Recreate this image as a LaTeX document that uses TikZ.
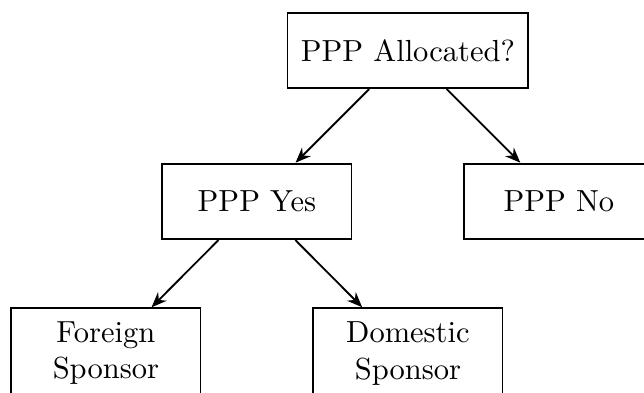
\documentclass[tikz,border=0pt]{standalone}
\usetikzlibrary{arrows.meta}

\begin{document}
\begin{tikzpicture}[
  box/.style={draw, semithick, align=center, minimum width=2.18cm, minimum height=0.87cm, inner sep=4.4pt},
  edge/.style={draw, semithick, -{Stealth[length=5pt,width=4pt]}}
]
\useasboundingbox (-4.70,-3.94) rectangle (2.72,0.58);
\node[box] (alloc) at (0,0) {PPP Allocated?};
\node[box] (yes) at (-1.74,-1.74) {PPP Yes};
\node[box] (no) at (1.74,-1.74) {PPP No};
\node[box] (foreign) at (-3.48,-3.49) {Foreign\\Sponsor};
\node[box] (domestic) at (0,-3.49) {Domestic\\Sponsor};
\draw[edge] (alloc) -- (yes);
\draw[edge] (alloc) -- (no);
\draw[edge] (yes) -- (foreign);
\draw[edge] (yes) -- (domestic);
\end{tikzpicture}
\end{document}
